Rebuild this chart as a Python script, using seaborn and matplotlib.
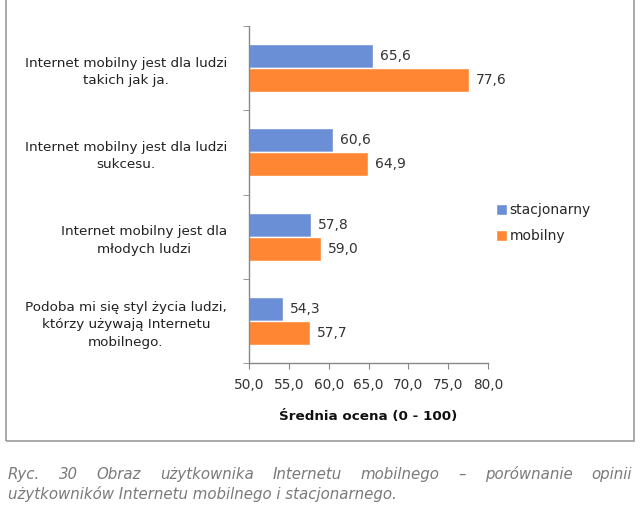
import pandas as pd
import numpy as np
import matplotlib
matplotlib.use("Agg")
import matplotlib.pyplot as plt
import matplotlib.patches as mpatches
import seaborn as sns

# ---------- DATA ----------
categories = [
    "Internet mobilny jest dla ludzi\ntakich jak ja.",
    "Internet mobilny jest dla ludzi\nsukcesu.",
    "Internet mobilny jest dla\nmłodych ludzi",
    "Podoba mi się styl życia ludzi,\nktórzy używają Internetu\nmobilnego.",
]
series = ["stacjonarny", "mobilny"]
stacjonarny = [65.6, 60.6, 57.8, 54.3]
mobilny = [77.6, 64.9, 59.0, 57.7]
x_ticks = [50, 55, 60, 65, 70, 75, 80]
colors = ["#6A8FD6", "#FF8633"]

caption_1 = "Ryc. 30 Obraz użytkownika Internetu mobilnego – porównanie opinii"
caption_2 = "użytkowników Internetu mobilnego i stacjonarnego."

df = pd.DataFrame({
    "kategoria": categories * 2,
    "seria": [series[0]] * 4 + [series[1]] * 4,
    "wartosc": stacjonarny + mobilny,
})

# ---------- PLOT ----------
sns.set_style("white")
plt.rcParams["font.family"] = ["DejaVu Sans"]
txt = "#333333"

fig = plt.figure(figsize=(6.4, 5.12), dpi=100)
ax = fig.add_axes([249 / 640, 1 - 363 / 512, (488 - 249) / 640, (363 - 26) / 512])

sns.barplot(data=df, y="kategoria", x="wartosc", hue="seria", orient="h",
            palette=colors, width=0.57, saturation=1, ax=ax, legend=True)

ax.set_xlim(50, 80)
ax.set_ylim(3.5, -0.5)
ax.set_xticks(x_ticks)
ax.set_xticklabels([f"{v:.1f}".replace(".", ",") for v in x_ticks], fontsize=9.8, color=txt)
ax.set_xlabel("Średnia ocena (0 - 100)", fontsize=9.7, fontweight="bold", color="#111111", labelpad=13)
ax.set_ylabel("")

ax.set_yticks(range(len(categories)))
ax.set_yticklabels(categories, fontsize=9.7, color="#222222", multialignment="center", linespacing=1.45)
ax.set_yticks(np.arange(-0.5, len(categories), 1), minor=True)
ax.tick_params(axis="y", which="major", length=0, pad=16)
ax.tick_params(axis="y", which="minor", length=4, direction="out", color="#888888", left=True)
ax.tick_params(axis="x", length=4, direction="out", color="#888888", bottom=True, pad=7)

for s in ["top", "right"]:
    ax.spines[s].set_visible(False)
for s in ["left", "bottom"]:
    ax.spines[s].set_color("#888888")
    ax.spines[s].set_linewidth(1.0)

for cont in ax.containers:
    ax.bar_label(cont, labels=[f"{w:.1f}".replace(".", ",") for w in cont.datavalues],
                 padding=5, fontsize=10, color=txt)

handles, labels = ax.get_legend_handles_labels()
ax.legend(handles, labels, loc="center left", bbox_to_anchor=(0.985, 0.415),
          frameon=False, fontsize=10, handlelength=0.8, handleheight=0.8,
          handletextpad=0.2, labelspacing=0.85, borderaxespad=0.4)

# chart frame
fig.patches.append(mpatches.Rectangle((6 / 640, 1 - 441 / 512), 628 / 640, 441 / 512 + 0.05,
                                      transform=fig.transFigure, fill=False,
                                      edgecolor="#999999", linewidth=1.2))

# caption, line 1 justified word by word
cap_kw = dict(fontsize=10.8, style="italic", color="#7a7a7a")
fig.canvas.draw()
renderer = fig.canvas.get_renderer()
words = caption_1.split(" ")
left, right = 8 / 640, 632 / 640
widths = []
for w in words:
    t = fig.text(0, 0, w, **cap_kw)
    bb = t.get_window_extent(renderer)
    widths.append(bb.width / fig.bbox.width)
    t.remove()
gap = (right - left - sum(widths)) / (len(words) - 1)
xpos = left
for w, wd in zip(words, widths):
    fig.text(xpos, 1 - 479 / 512, w, va="baseline", ha="left", **cap_kw)
    xpos += wd + gap
fig.text(left, 1 - 499 / 512, caption_2, va="baseline", ha="left", **cap_kw)

plt.savefig("out.png", dpi=100)
